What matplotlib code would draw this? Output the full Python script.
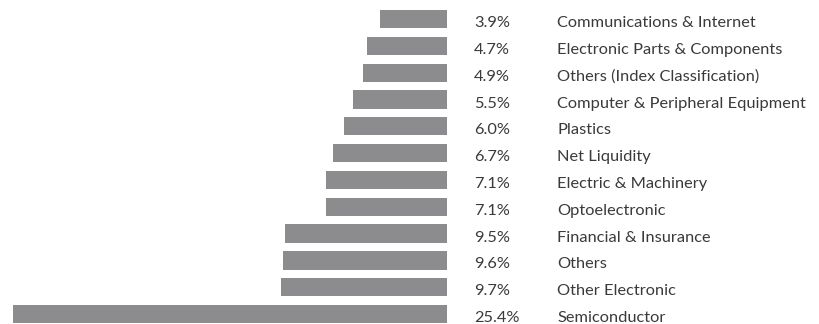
import matplotlib.pyplot as plt

categories = [
    "Semiconductor",
    "Other Electronic",
    "Others",
    "Financial & Insurance",
    "Optoelectronic",
    "Electric & Machinery",
    "Net Liquidity",
    "Plastics",
    "Computer & Peripheral Equipment",
    "Others (Index Classification)",
    "Electronic Parts & Components",
    "Communications & Internet",
]
weights = [25.4, 9.7, 9.6, 9.5, 7.1, 7.1, 6.7, 6.0, 5.5, 4.9, 4.7, 3.9]

bar_color = "#8c8c8f"
text_color = "#3a3a3a"

fig = plt.figure(figsize=(8.19, 3.24), dpi=100)
ax = fig.add_axes([0, 0, 1, 1])

ypos = list(range(len(categories)))
ax.barh(ypos, weights, height=0.68, color=bar_color)

for y, w, name in zip(ypos, weights, categories):
    ax.text(-1.58, y - 0.30, f"{w:.1f}%", va="baseline", ha="left",
            fontsize=11.8, color=text_color, family="Lato")
    ax.text(-6.44, y - 0.30, name, va="baseline", ha="left",
            fontsize=11.8, color=text_color, family="Lato")

# bars grow to the left from zero
ax.set_xlim(26.16, -21.77)
ax.set_ylim(-0.37, 11.71)
ax.axis("off")

fig.savefig("out.png", dpi=100)
